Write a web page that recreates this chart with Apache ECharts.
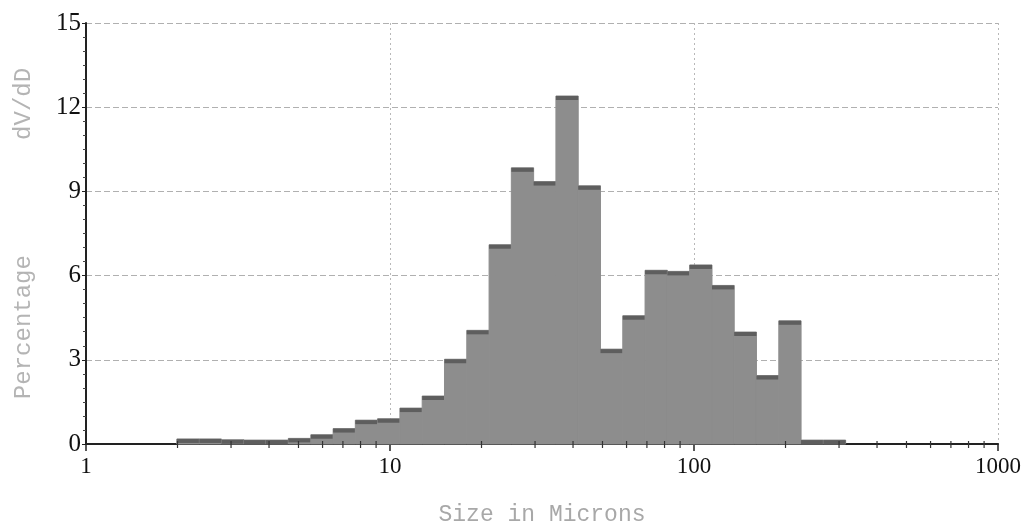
<!DOCTYPE html>
<html>
<head>
<meta charset="utf-8">
<script src="https://cdn.jsdelivr.net/npm/echarts@6/dist/echarts.min.js"></script>
<style>
  html, body { margin: 0; padding: 0; background: #fff; }
  #chart { width: 1025px; height: 527px; }
</style>
</head>
<body>
<div id="chart"></div>
<script>
// bin edges in microns
var binEdges = [1.99, 2.36, 2.79, 3.31, 3.91, 4.63, 5.49, 6.50, 7.69, 9.10,
  10.78, 12.76, 15.11, 17.89, 21.18, 25.07, 29.68, 35.14, 41.60, 49.25,
  58.31, 69.03, 81.73, 96.76, 114.6, 135.6, 160.5, 190.1, 225.0, 266.4, 315.4];
// percentage dV/dD for each bin
var percentages = [0.18, 0.18, 0.15, 0.14, 0.14, 0.2, 0.33, 0.55, 0.85, 0.9,
  1.28, 1.71, 3.02, 4.05, 7.1, 9.84, 9.35, 12.4, 9.2, 3.38,
  4.57, 6.19, 6.15, 6.38, 5.65, 3.99, 2.44, 4.39, 0.14, 0.14];
// minor tick positions on the log axis
var minorTicks = [2, 3, 4, 5, 6, 7, 8, 9, 20, 30, 40, 50, 60, 70, 80, 90,
  200, 300, 400, 500, 600, 700, 800, 900];
var yTicks = [0, 3, 6, 9, 12, 15];

var bins = percentages.map(function (v, i) {
  return [binEdges[i], binEdges[i + 1], v];
});

var chart = echarts.init(document.getElementById('chart'));
var mono = '"Liberation Mono", "DejaVu Sans Mono", monospace';
var serif = '"Liberation Serif", "DejaVu Serif", serif';

chart.setOption({
  animation: false,
  backgroundColor: '#fff',
  grid: { left: 86, right: 27, top: 23, bottom: 83, containLabel: false, outerBoundsMode: 'none' },
  xAxis: {
    type: 'log',
    logBase: 10,
    min: 1,
    max: 1000,
    name: 'Size in Microns',
    nameLocation: 'middle',
    nameGap: 59,
    nameTextStyle: { fontFamily: mono, fontSize: 23, color: '#a8a8a8' },
    axisLine: { show: true, lineStyle: { color: '#222', width: 2 } },
    axisTick: { show: true, length: 7, lineStyle: { color: '#222', width: 1.5 } },
    axisLabel: {
      fontFamily: serif, fontSize: 23, color: '#111', margin: 11,
      formatter: function (v) { return String(Math.round(v)); }
    },
    splitLine: { show: true, lineStyle: { color: '#b8b8b8', type: [2, 3], width: 1 } }
  },
  yAxis: {
    type: 'value',
    min: yTicks[0],
    max: yTicks[yTicks.length - 1],
    interval: 3,
    name: 'Percentage        dV/dD',
    nameLocation: 'middle',
    nameGap: 50,
    nameTextStyle: { fontFamily: mono, fontSize: 24, color: '#b4b4b4' },
    axisLine: { show: true, lineStyle: { color: '#222', width: 2 } },
    axisTick: { show: true, length: 4, lineStyle: { color: '#222' } },
    minorTick: { show: true, splitNumber: 6, length: 3, lineStyle: { color: '#444' } },
    axisLabel: { fontFamily: serif, fontSize: 25, color: '#111', margin: 5 },
    splitLine: { show: true, lineStyle: { color: '#b0b0b0', type: [6, 3], width: 1 } }
  },
  series: [
    {
      type: 'custom',
      data: bins,
      z: 3,
      renderItem: function (params, api) {
        var lo = api.value(0), hi = api.value(1), v = api.value(2);
        var p0 = api.coord([lo, 0]);
        var p1 = api.coord([hi, v]);
        return {
          type: 'group',
          children: [
            {
              type: 'rect',
              shape: { x: p0[0], y: p1[1], width: p1[0] - p0[0], height: p0[1] - p1[1] },
              style: { fill: '#8d8d8d', stroke: '#8d8d8d', lineWidth: 1 }
            },
            {
              type: 'rect',
              shape: { x: p0[0], y: p1[1], width: p1[0] - p0[0], height: Math.min(4, p0[1] - p1[1]) },
              style: { fill: '#5e5e5e' }
            }
          ]
        };
      }
    },
    {
      type: 'custom',
      data: minorTicks,
      z: 4,
      silent: true,
      renderItem: function (params, api) {
        var p = api.coord([api.value(0), 0]);
        return {
          type: 'line',
          shape: { x1: p[0], y1: p[1] - 3, x2: p[0], y2: p[1] + 4 },
          style: { stroke: '#333', lineWidth: 1.2 }
        };
      }
    }
  ]
});
</script>
</body>
</html>
